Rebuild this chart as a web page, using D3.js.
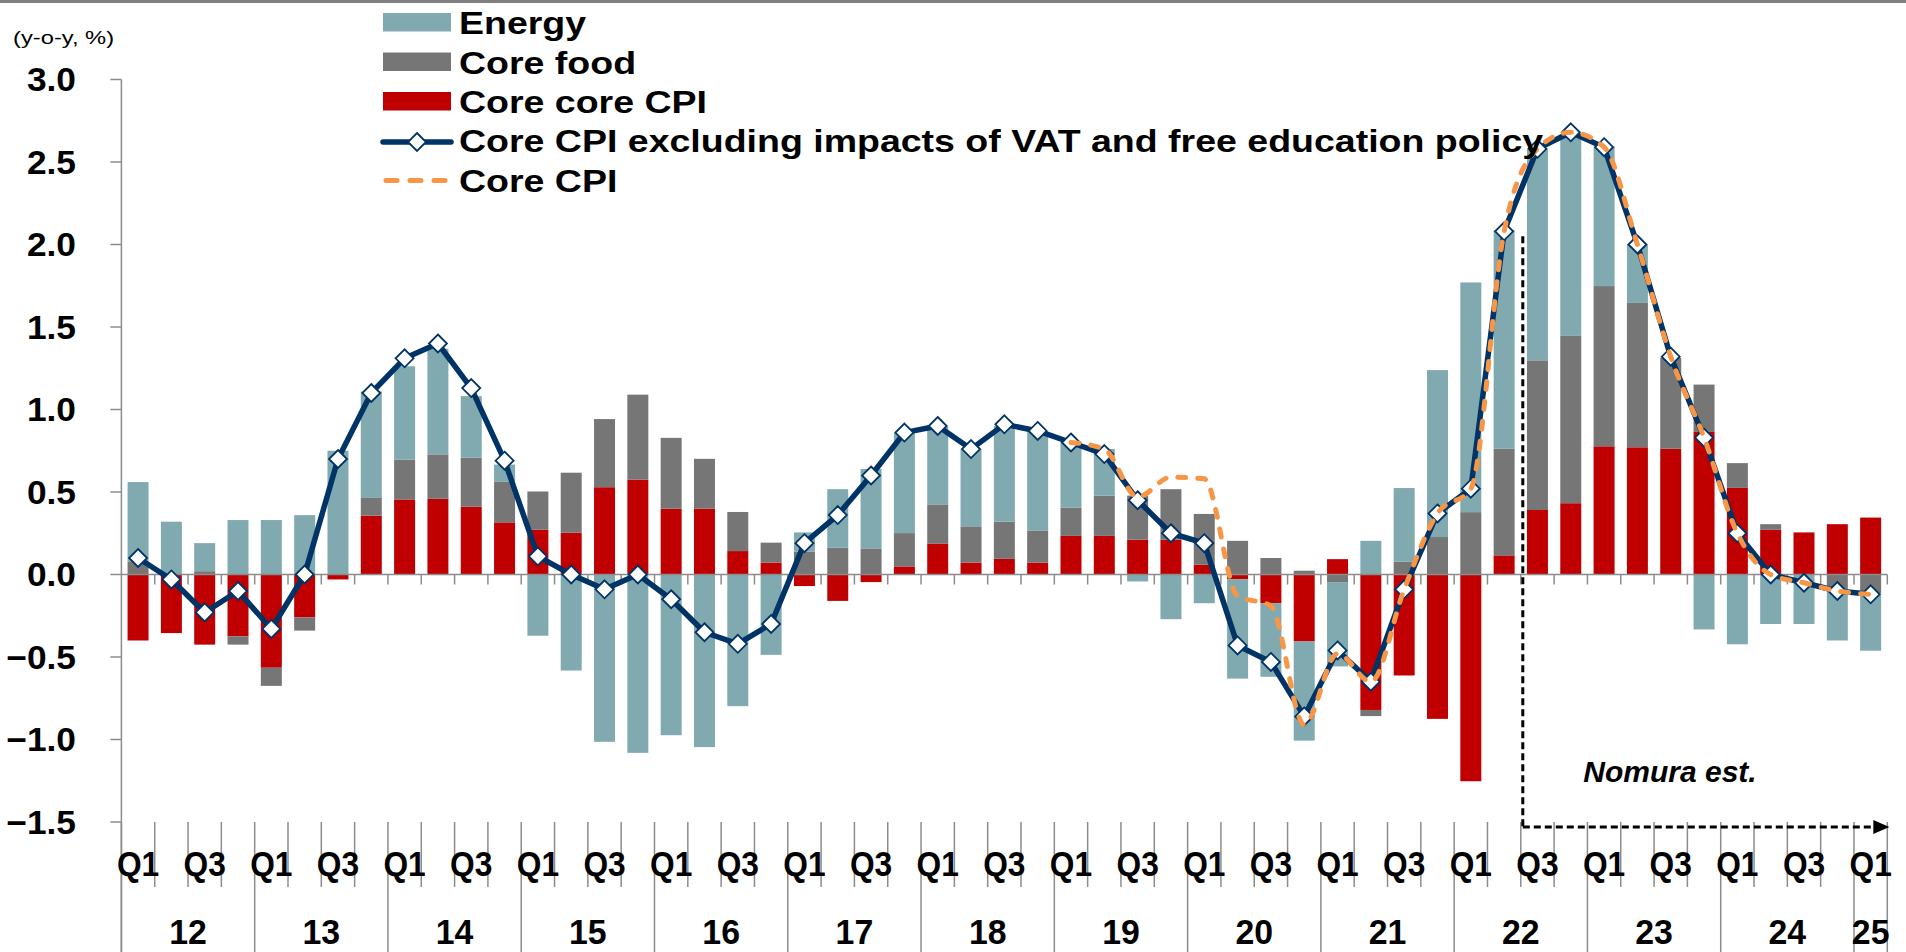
<!DOCTYPE html>
<html>
<head>
<meta charset="utf-8">
<script src="https://cdn.jsdelivr.net/npm/d3@7"></script>
<style>
	body { margin: 0; background: #fff; }
	text { font-family: "Liberation Sans", Arial, sans-serif; fill: #000; }
</style>
</head>
<body>
<script>
var width = 1906,
	height = 952;

// 2012Q1 .. 2025Q1
var years = ['12', '13', '14', '15', '16', '17', '18', '19', '20', '21', '22', '23', '24', '25'];
var quarters = [];
years.forEach(function(y) {
	['Q1', 'Q2', 'Q3', 'Q4'].forEach(function(q) {
		if (y != '25' || q == 'Q1') quarters.push(y + q);
	});
});

var energy = [0.48, 0.32, 0.17, 0.33, 0.33, 0.36, 0.75, 0.645, 0.566, 0.64, 0.373, 0.102,
	-0.371, -0.582, -1.014, -1.081, -0.974, -1.046, -0.798, -0.487, 0.116, 0.355, 0.482, 0.607,
	0.47, 0.469, 0.58, 0.598, 0.40, 0.283, -0.042, -0.271, -0.174, -0.603, -0.446, -0.601,
	-0.511, 0.204, 0.447, 1.012, 1.392, 1.325, 1.28, 1.221, 0.846, 0.354, 0.0, -0.333,
	-0.423, -0.30, -0.30, -0.31, -0.348];
var coreFood = [0.08, 0.0, 0.02, -0.05, -0.11, -0.08, 0.0, 0.107, 0.241, 0.269, 0.297, 0.248,
	0.232, 0.364, 0.413, 0.515, 0.429, 0.302, 0.237, 0.121, 0.139, 0.162, 0.158, 0.202,
	0.237, 0.22, 0.225, 0.195, 0.172, 0.244, 0.267, 0.306, 0.307, 0.204, 0.10, 0.023,
	-0.046, -0.037, 0.077, 0.227, 0.378, 0.646, 0.907, 1.014, 0.971, 0.875, 0.551, 0.287,
	0.15, 0.034, 0.0, -0.09, -0.114];
var coreCore = [-0.40, -0.355, -0.425, -0.375, -0.565, -0.26, -0.03, 0.357, 0.455, 0.459, 0.411, 0.316,
	0.271, 0.253, 0.529, 0.575, 0.399, 0.399, 0.142, 0.072, -0.07, -0.16, -0.046, 0.049,
	0.188, 0.072, 0.095, 0.072, 0.234, 0.234, 0.211, 0.211, 0.06, -0.028, -0.174, -0.406,
	0.093, -0.821, -0.612, -0.875, -1.253, 0.116, 0.391, 0.432, 0.777, 0.771, 0.762, 0.864,
	0.525, 0.271, 0.255, 0.305, 0.345];
var coreExVat = [0.10, -0.03, -0.23, -0.10, -0.33, 0.0, 0.70, 1.10, 1.31, 1.40, 1.13, 0.69,
	0.11, 0.0, -0.09, 0.0, -0.15, -0.35, -0.42, -0.30, 0.19, 0.36, 0.60, 0.86,
	0.90, 0.76, 0.91, 0.87, 0.80, 0.73, 0.45, 0.25, 0.19, -0.43, -0.53, -0.86,
	-0.46, -0.65, -0.09, 0.37, 0.52, 2.08, 2.58, 2.68, 2.59, 2.00, 1.32, 0.83,
	0.25, 0.0, -0.05, -0.10, -0.12];
var coreCpi = [null, null, null, null, null, null, null, null, null, null, null, null,
	null, null, null, null, null, null, null, null, null, null, null, null,
	null, null, null, null, 0.80, 0.76, 0.47, 0.59, 0.58, -0.13, -0.19, -0.91,
	-0.48, -0.65, -0.09, 0.37, 0.52, 2.08, 2.58, 2.68, 2.59, 2.00, 1.32, 0.83,
	0.25, 0.0, -0.05, -0.10, -0.12];
var yTicks = [-1.5, -1.0, -0.5, 0.0, 0.5, 1.0, 1.5, 2.0, 2.5, 3.0];

var colors = {
	energy: '#80aaaf',
	food: '#767676',
	core: '#c00000',
	navy: '#003366',
	orange: '#f79646',
	axis: '#8c8c8c',
};

var rows = quarters.map(function(q, i) {
	return {q: q, core: coreCore[i], food: coreFood[i], energy: energy[i]};
});

var svg = d3.select('body')
	.append('svg')
	.attr('width', width)
	.attr('height', height);

var x = d3.scaleBand()
	.domain(quarters)
	.range([121.4, 1887.3])
	.paddingInner(0.37)
	.paddingOuter(0.185);

var y = d3.scaleLinear()
	.domain([-1.5, 3.0])
	.range([822, 79.5]);

var step = x.step();
function edge(i) {
	return x.range()[0] + step * i;
}
function mid(i) {
	return x(quarters[i]) + x.bandwidth() / 2;
}

// text with a horizontal stretch
function label(g, tx, ty, txt, size, sx, anchor, weight, style) {
	return g.append('text')
		.attr('transform', 'translate(' + tx + ',' + ty + ') scale(' + sx + ',1)')
		.attr('text-anchor', anchor)
		.style('font-size', size + 'px')
		.style('font-weight', weight || 'bold')
		.style('font-style', style || 'normal')
		.text(txt);
}

// top border
svg.append('rect')
	.attr('x', 0).attr('y', 0)
	.attr('width', width).attr('height', 3)
	.attr('fill', '#808080');

// stacked bars
var stack = d3.stack()
	.keys(['core', 'food', 'energy'])
	.offset(d3.stackOffsetDiverging);

var series = stack(rows);

svg.append('g')
	.selectAll('g')
	.data(series)
	.enter()
	.append('g')
	.attr('fill', function(d) {
		return colors[d.key];
	})
	.selectAll('rect')
	.data(function(d) { return d; })
	.enter()
	.append('rect')
	.attr('x', function(d) { return x(d.data.q); })
	.attr('width', x.bandwidth())
	.attr('y', function(d) { return y(Math.max(d[0], d[1])); })
	.attr('height', function(d) { return Math.abs(y(d[0]) - y(d[1])); });

// y axis
var axis = svg.append('g').attr('stroke', colors.axis).attr('stroke-width', 1.5);
axis.append('line')
	.attr('x1', edge(0)).attr('x2', edge(0))
	.attr('y1', y(3.0)).attr('y2', height);

axis.selectAll('.ytick')
	.data(yTicks)
	.enter()
	.append('line')
	.attr('x1', edge(0) - 11).attr('x2', edge(0))
	.attr('y1', function(d) { return y(d); })
	.attr('y2', function(d) { return y(d); });

yTicks.forEach(function(t) {
	label(svg, 76, y(t) + 11.5, d3.format('.1f')(t), 33, 1.07, 'end');
});

label(svg, 13, 44, '(y-o-y, %)', 18, 1.32, 'start', 'normal');

// zero line with small ticks
axis.append('line')
	.attr('x1', edge(0)).attr('x2', edge(quarters.length))
	.attr('y1', y(0)).attr('y2', y(0));

var bounds = d3.range(quarters.length + 1);
axis.selectAll('.ztick')
	.data(bounds.slice(1))
	.enter()
	.append('line')
	.attr('x1', edge).attr('x2', edge)
	.attr('y1', y(0)).attr('y2', y(0) + 10);

// bottom category ticks
axis.selectAll('.btick')
	.data(bounds)
	.enter()
	.append('line')
	.attr('x1', edge).attr('x2', edge)
	.attr('y1', y(-1.5))
	.attr('y2', function(i) {
		return (i % 4 == 0 || i == quarters.length) ? height : 887;
	});

quarters.forEach(function(q, i) {
	if (i % 2 == 0) label(svg, mid(i), 876, q.slice(2), 36, 0.88, 'middle');
});

years.forEach(function(yr, k) {
	var a = k * 4,
		b = Math.min(a + 4, quarters.length);
	label(svg, (edge(a) + edge(b)) / 2, 944, yr, 36, 0.94, 'middle');
});

// estimate marker
var est = svg.append('g')
	.attr('stroke', '#000')
	.attr('stroke-width', 3)
	.attr('stroke-dasharray', '7,4');
est.append('line')
	.attr('x1', edge(42) + 2).attr('x2', edge(42) + 2)
	.attr('y1', y(2.05)).attr('y2', 827);
est.append('line')
	.attr('x1', edge(42) + 2).attr('x2', edge(quarters.length) - 12)
	.attr('y1', 827).attr('y2', 827);
svg.append('path')
	.attr('d', 'M' + (edge(quarters.length) + 2) + ',827 l-16,-7 l0,14 z')
	.attr('fill', '#000');
label(svg, 1670, 782, 'Nomura est.', 30, 1.0, 'middle', 'bold', 'italic');

// lines
var navyLine = d3.line()
	.x(function(d, i) { return mid(i); })
	.y(function(d) { return y(d); });

svg.append('path')
	.datum(coreExVat)
	.attr('d', navyLine)
	.attr('fill', 'none')
	.attr('stroke', colors.navy)
	.attr('stroke-width', 5.5)
	.attr('stroke-linejoin', 'round');

var diamond = 'M0,-9L9,0L0,9L-9,0Z';
svg.append('g')
	.selectAll('path')
	.data(coreExVat)
	.enter()
	.append('path')
	.attr('d', diamond)
	.attr('transform', function(d, i) {
		return 'translate(' + mid(i) + ',' + y(d) + ')';
	})
	.attr('fill', '#fff')
	.attr('stroke', colors.navy)
	.attr('stroke-width', 1.8);

var orangeLine = d3.line()
	.defined(function(d) { return d != null; })
	.x(function(d, i) { return mid(i); })
	.y(function(d) { return y(d); })
	.curve(d3.curveMonotoneX);

svg.append('path')
	.datum(coreCpi)
	.attr('d', orangeLine)
	.attr('fill', 'none')
	.attr('stroke', colors.orange)
	.attr('stroke-width', 5)
	.attr('stroke-linecap', 'round')
	.attr('stroke-dasharray', '8,12');

// legend
var legend = svg.append('g');
var lx = 383,
	lw = 68,
	tx = 459,
	base = [34, 73.5, 113, 152, 191.5];

[['energy', 'Energy'], ['food', 'Core food'], ['core', 'Core core CPI']].forEach(function(d, i) {
	legend.append('rect')
		.attr('x', lx).attr('y', base[i] - 21)
		.attr('width', lw).attr('height', 18.5)
		.attr('fill', colors[d[0]]);
	label(legend, tx, base[i], d[1], 30.5, 1.23, 'start');
});

legend.append('line')
	.attr('x1', lx).attr('x2', lx + lw)
	.attr('y1', base[3] - 10).attr('y2', base[3] - 10)
	.attr('stroke', colors.navy)
	.attr('stroke-width', 5.5)
	.attr('stroke-linecap', 'round');
legend.append('path')
	.attr('d', diamond)
	.attr('transform', 'translate(' + (lx + lw / 2) + ',' + (base[3] - 10) + ')')
	.attr('fill', '#fff')
	.attr('stroke', colors.navy)
	.attr('stroke-width', 1.8);
label(legend, tx, base[3], 'Core CPI excluding impacts of VAT and free education policy', 30.5, 1.23, 'start');

legend.append('line')
	.attr('x1', lx + 3).attr('x2', lx + lw - 3)
	.attr('y1', base[4] - 11).attr('y2', base[4] - 11)
	.attr('stroke', colors.orange)
	.attr('stroke-width', 5)
	.attr('stroke-linecap', 'round')
	.attr('stroke-dasharray', '11,13');
label(legend, tx, base[4], 'Core CPI', 30.5, 1.23, 'start');
</script>
</body>
</html>
